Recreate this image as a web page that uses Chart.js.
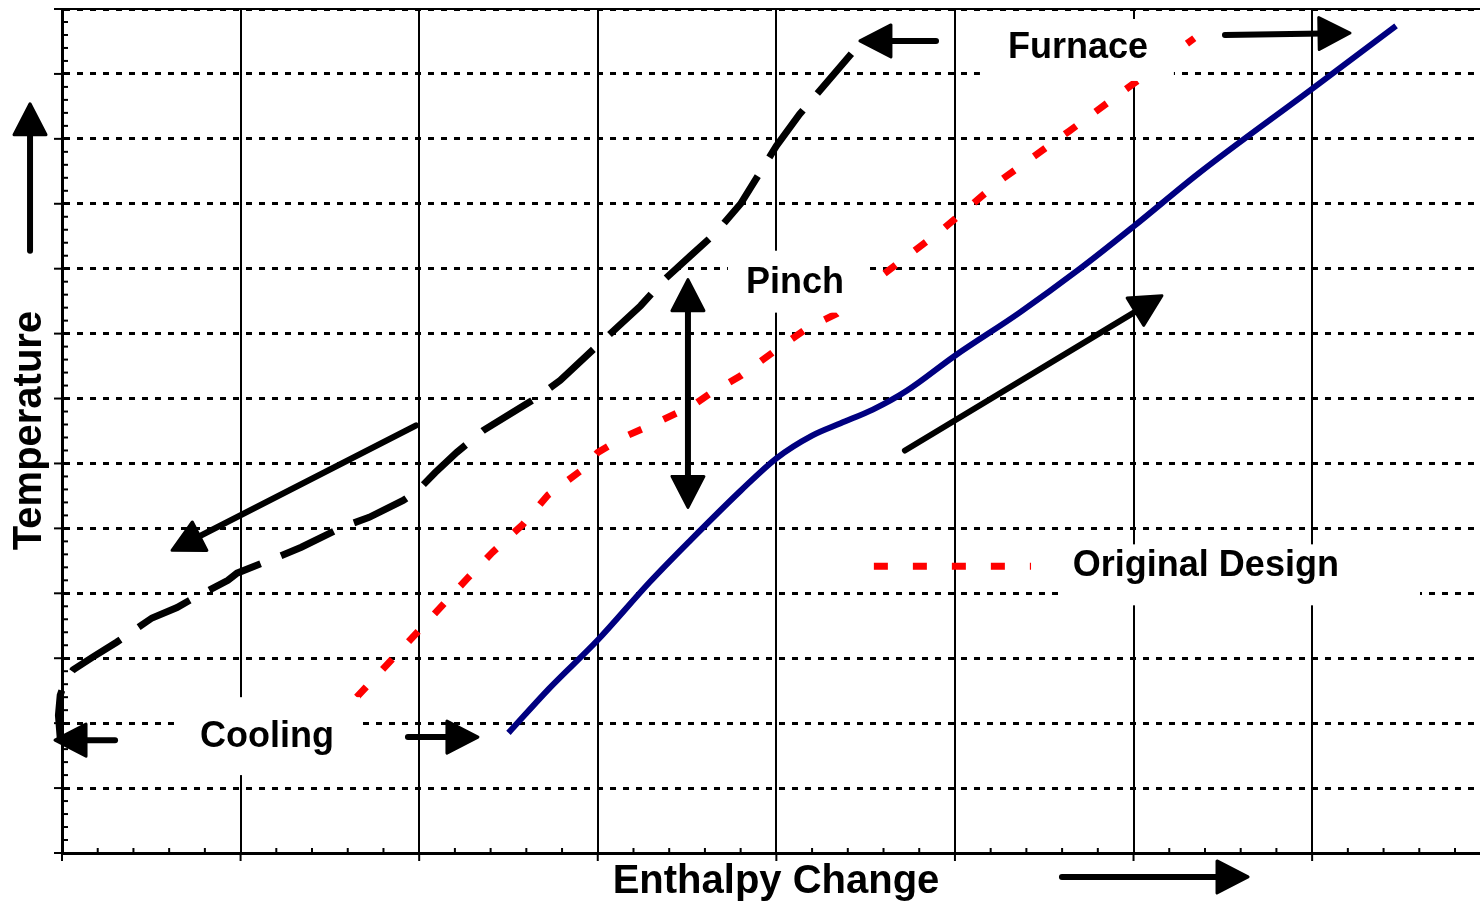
<!DOCTYPE html>
<html lang="en">
<head>
  <meta charset="UTF-8" />
  <title>Composite Curves</title>
  <script src="https://cdn.jsdelivr.net/npm/chart.js"></script>
  <style>
    body { margin: 0; background: #fff; }
    canvas { display: block; }
  </style>
</head>
<body>
  <canvas id="chart" width="1480" height="908"></canvas>

  <script>
    // Hot composite curve (black, long dashes)
    const hotX = [-0.01, -0.02, -0.01, 0.017, 0.062, 0.174, 0.308, 0.504, 0.644, 0.733, 0.929, 0.98, 1.20, 1.34, 1.57, 1.72, 1.91, 1.99, 2.09, 2.21, 2.36, 2.52, 2.65, 2.79, 3.00, 3.24, 3.38, 3.52, 3.66, 3.80, 4.00, 4.13, 4.42];
    const hotY = [1.77, 2.12, 2.43, 2.65, 2.82, 3.02, 3.25, 3.62, 3.78, 3.92, 4.20, 4.31, 4.55, 4.71, 5.02, 5.17, 5.43, 5.58, 5.86, 6.17, 6.51, 6.78, 7.00, 7.28, 7.82, 8.43, 8.85, 9.20, 9.55, 10.00, 10.89, 11.38, 12.31];

    // Original design (red, short dashes)
    const origX = [1.65, 2.00, 2.27, 2.41, 2.58, 2.72, 2.92, 3.00, 3.14, 3.33, 3.53, 3.63, 3.80, 3.98, 4.17, 4.34, 4.57, 4.76, 4.92, 5.25, 5.64, 6.00, 6.34];
    const origY = [2.40, 3.43, 4.23, 4.63, 5.06, 5.51, 5.92, 6.17, 6.40, 6.63, 6.89, 7.08, 7.35, 7.71, 8.08, 8.31, 8.85, 9.25, 9.58, 10.35, 11.12, 11.85, 12.55];

    // Cold curve (navy, solid)
    const coldX = [2.50, 2.73, 3.00, 3.29, 3.52, 3.80, 4.00, 4.20, 4.36, 4.54, 4.73, 5.00, 5.36, 5.70, 6.00, 6.37, 7.00, 7.47];
    const coldY = [1.85, 2.54, 3.28, 4.17, 4.82, 5.58, 6.08, 6.43, 6.62, 6.83, 7.12, 7.66, 8.32, 9.00, 9.65, 10.48, 11.77, 12.74];

    // axis ranges (unlabelled grid)
    const xRange = [0, 7.94];
    const yRange = [0, 13];

    // annotations, in data units
    const labels = [
      { text: "Cooling", x: 1.148, y: 1.785, box: [0.661, 2.40, 1.669, 1.20] },
      { text: "Pinch", x: 4.104, y: 8.785, box: [3.729, 9.277, 4.524, 8.323] },
      { text: "Furnace", x: 5.689, y: 12.40, box: [5.140, 12.846, 6.226, 11.892] },
      { text: "Original Design", x: 6.405, y: 4.415, box: [5.582, 4.754, 7.604, 3.815] }
    ];
    const legendLine = [4.546, 5.426, 4.415];

    // [fromX, fromY, toX, toY, double-headed]
    const arrows = [
      [-0.179, 9.277, -0.179, 11.54, false],
      [5.599, -0.369, 6.641, -0.369, false],
      [0.297, 1.738, -0.039, 1.738, false],
      [1.937, 1.785, 2.329, 1.785, false],
      [4.894, 12.508, 4.468, 12.508, false],
      [6.512, 12.60, 7.212, 12.63, false],
      [1.982, 6.585, 0.616, 4.662, false],
      [4.720, 6.200, 6.159, 8.585, false],
      [3.505, 8.831, 3.505, 5.323, true]
    ];

    const FONT = '"Liberation Sans", Arial, sans-serif';

    function toPts(xs, ys) {
      return xs.map((x, i) => ({ x: x, y: ys[i] }));
    }

    function drawArrow(ctx, x1, y1, x2, y2, both) {
      const headLen = 31, headW = 32;
      const dx = x2 - x1, dy = y2 - y1;
      const len = Math.hypot(dx, dy);
      const ux = dx / len, uy = dy / len;
      const sx = both ? x1 + ux * (headLen - 4) : x1;
      const sy = both ? y1 + uy * (headLen - 4) : y1;
      ctx.beginPath();
      ctx.moveTo(sx, sy);
      ctx.lineTo(x2 - ux * (headLen - 4), y2 - uy * (headLen - 4));
      ctx.stroke();
      const head = (tx, ty, vx, vy) => {
        const bx = tx - vx * headLen, by = ty - vy * headLen;
        ctx.beginPath();
        ctx.moveTo(tx, ty);
        ctx.lineTo(bx - vy * headW / 2, by + vx * headW / 2);
        ctx.lineTo(bx + vy * headW / 2, by - vx * headW / 2);
        ctx.closePath();
        ctx.save();
        ctx.lineWidth = 3;
        ctx.fill();
        ctx.stroke();
        ctx.restore();
      };
      head(x2, y2, ux, uy);
      if (both) head(x1, y1, -ux, -uy);
    }

    const decorations = {
      id: "decorations",
      afterDraw(chart) {
        const ctx = chart.ctx;
        const sx = chart.scales.x, sy = chart.scales.y;
        const X = v => sx.getPixelForValue(v);
        const Y = v => sy.getPixelForValue(v);
        const area = chart.chartArea;

        ctx.save();

        // top frame line
        ctx.strokeStyle = "#000";
        ctx.lineWidth = 2;
        ctx.beginPath();
        ctx.moveTo(area.left, area.top);
        ctx.lineTo(area.right, area.top);
        ctx.stroke();

        // tick marks
        ctx.lineWidth = 2;
        for (let i = 0; xRange[0] + i * 0.2 <= xRange[1] + 1e-9; i++) {
          const p = X(xRange[0] + i * 0.2);
          ctx.beginPath();
          if (i % 5 === 0) { ctx.moveTo(p, area.bottom); ctx.lineTo(p, area.bottom + 8); }
          else { ctx.moveTo(p, area.bottom); ctx.lineTo(p, area.bottom - 5); }
          ctx.stroke();
        }
        for (let i = 0; yRange[0] + i * 0.2 <= yRange[1] + 1e-9; i++) {
          const p = Y(yRange[0] + i * 0.2);
          ctx.beginPath();
          if (i % 5 === 0) { ctx.moveTo(area.left, p); ctx.lineTo(area.left - 8, p); }
          else { ctx.moveTo(area.left, p); ctx.lineTo(area.left + 6, p); }
          ctx.stroke();
        }

        // label boxes and labels
        ctx.textAlign = "center";
        ctx.textBaseline = "middle";
        labels.forEach(l => {
          const [x0, y0, x1, y1] = l.box;
          ctx.fillStyle = "#fff";
          ctx.fillRect(X(x0), Y(y0), X(x1) - X(x0), Y(y1) - Y(y0));
          ctx.fillStyle = "#000";
          ctx.font = "bold 36px " + FONT;
          ctx.fillText(l.text, X(l.x), Y(l.y));
        });

        // legend sample for the original design
        ctx.strokeStyle = "#ff0000";
        ctx.lineWidth = 7;
        ctx.setLineDash([14, 25]);
        ctx.beginPath();
        ctx.moveTo(X(legendLine[0]), Y(legendLine[2]));
        ctx.lineTo(X(legendLine[1]), Y(legendLine[2]));
        ctx.stroke();
        ctx.setLineDash([]);

        // axis titles
        ctx.fillStyle = "#000";
        ctx.font = "bold 40px " + FONT;
        ctx.fillText("Enthalpy Change", X(3.998), Y(-0.446));
        ctx.save();
        ctx.translate(X(-0.179), Y(6.508));
        ctx.rotate(-Math.PI / 2);
        ctx.fillText("Temperature", 0, 0);
        ctx.restore();

        // arrows
        ctx.strokeStyle = "#000";
        ctx.fillStyle = "#000";
        ctx.lineWidth = 6;
        ctx.lineCap = "round";
        ctx.lineJoin = "round";
        arrows.forEach(a => drawArrow(ctx, X(a[0]), Y(a[1]), X(a[2]), Y(a[3]), a[4]));

        ctx.restore();
      }
    };

    new Chart(document.getElementById("chart"), {
      type: "line",
      data: {
        datasets: [
          {
            label: "Hot composite",
            data: toPts(hotX, hotY),
            borderColor: "#000",
            borderWidth: 7,
            borderDash: [58, 22],
            borderDashOffset: 10,
            pointRadius: 0,
            tension: 0,
            clip: 10
          },
          {
            label: "Original Design",
            data: toPts(origX, origY),
            borderColor: "#ff0000",
            borderWidth: 7,
            borderDash: [14, 24],
            pointRadius: 0,
            tension: 0
          },
          {
            label: "Cold composite",
            data: toPts(coldX, coldY),
            borderColor: "#000080",
            borderWidth: 6,
            pointRadius: 0,
            tension: 0.4,
            cubicInterpolationMode: "monotone"
          }
        ]
      },
      options: {
        responsive: false,
        devicePixelRatio: 1,
        animation: false,
        layout: { padding: { left: 62, top: 9, right: 0, bottom: 55 } },
        plugins: {
          legend: { display: false },
          tooltip: { enabled: false }
        },
        scales: {
          x: {
            type: "linear",
            min: xRange[0],
            max: xRange[1],
            ticks: { display: false, stepSize: 1, includeBounds: false },
            grid: { color: "#000", lineWidth: 2, drawTicks: false },
            border: { color: "#000", width: 3 }
          },
          y: {
            type: "linear",
            min: yRange[0],
            max: yRange[1],
            ticks: { display: false, stepSize: 1 },
            grid: { color: "#000", lineWidth: 3, drawTicks: false },
            border: { color: "#000", width: 3, dash: [6, 7] }
          }
        }
      },
      plugins: [decorations]
    });
  </script>
</body>
</html>
